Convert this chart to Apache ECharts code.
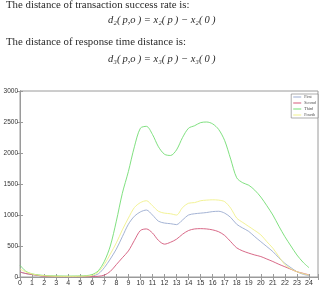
<!DOCTYPE html>
<html><head><meta charset="utf-8">
<script src="https://cdn.jsdelivr.net/npm/echarts@6/dist/echarts.min.js"></script>
<style>html,body{margin:0;padding:0;background:#fff}#c{width:323px;height:289px}</style>
</head><body><div id="c"></div>
<script>
const hours = [0,0.5,1,1.5,2,2.5,3,3.5,4,4.5,5,5.5,6,6.5,7,7.5,8,8.5,9,9.5,10,10.5,11,11.5,12,12.5,13,13.5,14,14.5,15,15.5,16,16.5,17,17.5,18,18.5,19,19.5,20,20.5,21,21.5,22,22.5,23,23.5,24];
const xTickLabels = ['0','1','2','3','4','5','6','7','8','9','10','11','12','13','14','15','16','17','18','19','20','21','22','23','24'];
const yTickLabels = ['0','500','1000','1500','2000','2500','3000'];
const seriesNames = ['First','Second','Third','Fourth'];
const first  = [80,55,40,25,15,10,8,6,5,6,8,10,15,50,150,290,450,650,850,980,1050,1080,1000,900,870,860,845,920,1000,1020,1030,1040,1055,1060,1030,960,850,790,735,650,570,490,410,310,220,150,85,45,20];
const second = [80,55,40,25,12,8,6,5,4,5,5,5,6,12,30,90,200,310,420,590,750,775,710,590,530,560,610,690,750,775,780,775,760,730,670,570,470,420,385,355,330,290,250,205,165,125,85,60,35];
const third  = [190,90,50,35,25,20,18,16,15,16,18,22,40,100,250,500,900,1350,1700,2100,2400,2430,2300,2100,1980,1960,2050,2250,2400,2440,2490,2500,2470,2380,2200,1900,1600,1520,1480,1400,1290,1150,1000,820,650,500,355,240,150];
const fourth = [130,80,50,30,20,15,12,10,10,10,12,15,25,80,200,370,550,760,950,1120,1200,1230,1150,1060,1030,1020,1000,1120,1190,1200,1230,1240,1245,1240,1215,1110,950,880,815,750,680,570,465,330,200,130,85,55,30];
const colors = ['#9aaacf','#d4587a','#72dc72','#f0f08a'];

const chart = echarts.init(document.getElementById('c'), null, {renderer:'canvas'});
const mk = (arr) => hours.map((h,i)=>[h,arr[i]]);
const axisCol = '#9a9a9a';
const serif = '"Liberation Serif", "DejaVu Serif", serif';
const textCol = '#2a2a2a';
chart.setOption({
  animation:false,
  backgroundColor:'#fff',
  grid:{left:20,top:91,right:5,bottom:12,show:true,borderColor:axisCol,borderWidth:1},
  xAxis:[{type:'value',min:0,max:24.75,interval:1,
    axisLine:{lineStyle:{color:axisCol}},
    axisTick:{inside:true,length:3,lineStyle:{color:axisCol}},
    axisLabel:{fontSize:7,color:'#333',margin:3,fontFamily:'Liberation Sans, Arial',
      formatter:(v)=> (Number.isInteger(v) && v<=24) ? xTickLabels[v] : ''},
    splitLine:{show:false}},
    {type:'value',position:'top',min:0,max:24.75,interval:1,
    axisLine:{lineStyle:{color:axisCol}},
    axisTick:{inside:true,length:3,lineStyle:{color:axisCol}},
    axisLabel:{show:false},splitLine:{show:false}}],
  yAxis:[{type:'value',min:0,max:3000,interval:500,
    axisLine:{show:true,lineStyle:{color:axisCol}},
    axisTick:{show:true,inside:true,length:3,lineStyle:{color:axisCol}},
    axisLabel:{fontSize:6.5,color:'#333',margin:2,fontFamily:'Liberation Sans, Arial',
      formatter:(v)=> yTickLabels[Math.round(v/500)]},
    splitLine:{show:false}},
    {type:'value',position:'right',min:0,max:3000,interval:500,
    axisLine:{show:true,lineStyle:{color:axisCol}},
    axisTick:{show:true,inside:true,length:3,lineStyle:{color:axisCol}},
    axisLabel:{show:false},splitLine:{show:false}}],
  legend:{show:true,orient:'vertical',right:5,top:94,itemWidth:8,itemHeight:1,itemGap:2,
    padding:[1,2,1,2],borderColor:'#777',borderWidth:0.6,backgroundColor:'#fff',
    textStyle:{fontSize:4,color:'#444',fontFamily:serif,padding:[0,0,0,-2]},
    icon:'rect',data:seriesNames},
  series:[first,second,third,fourth].map((arr,i)=>({
    name:seriesNames[i],type:'line',data:mk(arr),showSymbol:false,smooth:0.3,
    lineStyle:{width:0.9,color:colors[i]},itemStyle:{color:colors[i]},z:2+i
  })),
  graphic:[
    {type:'text',left:6,top:0,style:{text:'The distance of transaction success rate is:',font:'10.8px '+serif,fill:textCol}},
    {type:'text',left:108,top:15,style:{text:'d₂(\u2009p,o\u2009) = x₂(\u2009p\u2009) − x₂(\u20090\u2009)',font:'italic 10.5px '+serif,fill:textCol}},
    {type:'text',left:6,top:37,style:{text:'The distance of response time distance is:',font:'10.8px '+serif,fill:textCol}},
    {type:'text',left:108,top:54,style:{text:'d₃(\u2009p,o\u2009) = x₃(\u2009p\u2009) − x₃(\u20090\u2009)',font:'italic 10.5px '+serif,fill:textCol}}
  ]
});
</script></body></html>
